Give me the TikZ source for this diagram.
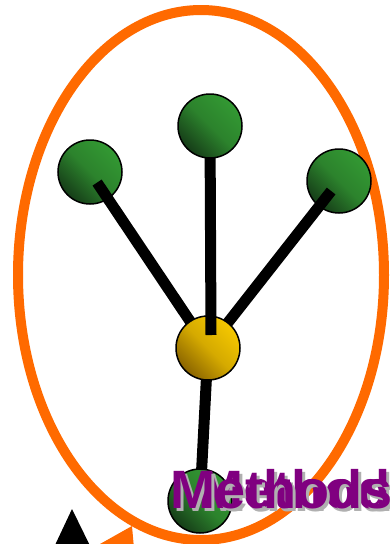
\documentclass[tikz,border=0pt]{standalone}
\usepackage{fontspec}
\setmainfont{Liberation Sans}
\usetikzlibrary{calc}
\definecolor{orng}{HTML}{FF6A00}
\definecolor{gdark}{HTML}{163D18}
\definecolor{glight}{HTML}{339933}
\definecolor{ydark}{HTML}{8A6400}
\definecolor{ylight}{HTML}{F5C800}
\definecolor{purp}{HTML}{800080}
\definecolor{shad}{HTML}{B0B0B0}
\tikzset{
  ball/.style={circle, draw=black, line width=1.5pt, inner sep=0pt, minimum size=64pt},
  gball/.style={ball, top color=glight, bottom color=gdark, middle color=glight!75!gdark, shading angle=-45},
  yball/.style={ball, top color=ylight, bottom color=ydark, middle color=ylight!70!ydark, shading angle=-45},
  arm/.style={line width=11pt, black},
  label/.style={anchor=base west, inner sep=0pt, font=\fontsize{54}{60}\selectfont\bfseries},
}
\begin{document}
\begin{tikzpicture}[x=1pt,y=-1pt]
\useasboundingbox (0,0) rectangle (389,544);
\clip (0,0) rectangle (389,544);
\fill[white] (0,0) rectangle (389,544);
% orange ellipse
\draw[orng, line width=10pt] (201,275) ellipse [x radius=183pt, y radius=265pt];
% bottom triangles
\fill[black] (72,509) -- (97,560) -- (48,560) -- cycle;
\fill[orng] (132,526) -- (135,560) -- (95,560) -- (100,544) -- cycle;
% coordinates for centres
\coordinate (cL) at (90,172);
\coordinate (cT) at (210,126);
\coordinate (cR) at (339,181);
\coordinate (cY) at (208,348);
\coordinate (cB) at (200,501);
% bottom connector under both balls
\draw[arm] (cY) -- (cB);
% side balls
\node[gball] (L) at (cL) {};
\node[gball] (R) at (cR) {};
% arms over side balls
\coordinate (aL) at ($(cL)!0.06!(cY)$);
\coordinate (aR) at ($(cR)!0.06!(cY)$);
\draw[arm] (aL) -- (cY);
\draw[arm] (aR) -- (cY);
% yellow and bottom ball
\node[yball] (Y) at (cY) {};
\node[gball] (B) at (cB) {};
% vertical connector over yellow
\coordinate (vE) at (211,335);
\draw[arm] (cT) -- (vE);
\node[gball] (T) at (cT) {};
% labels
\node[label, text=shad] (m2s) at (201,511) {Methods};
\node[label, text=purp] (m2) at (198,508) {Methods};
\node[label, text=shad] (m1s) at (173,511) {Methods};
\node[label, text=purp] (m1) at (170,508) {Methods};
\end{tikzpicture}
\end{document}
